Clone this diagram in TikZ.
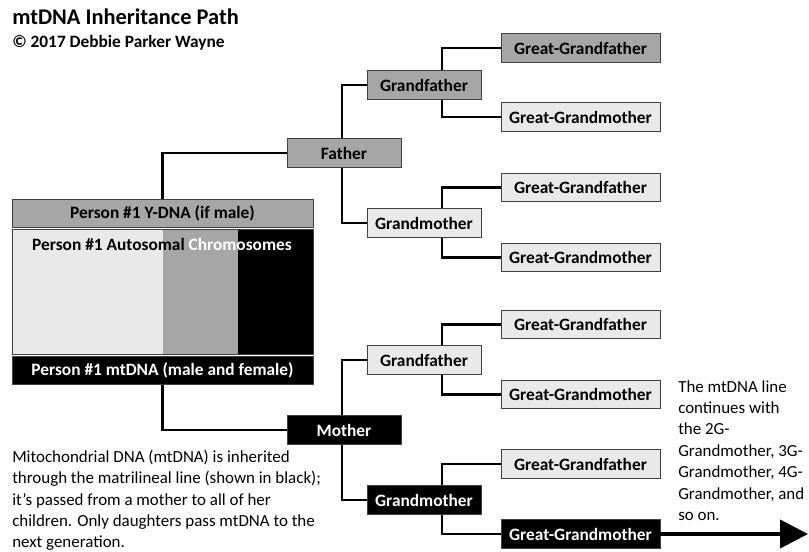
\documentclass[tikz,border=0pt]{standalone}
\usepackage{fontspec}
\setmainfont{Carlito}
\usetikzlibrary{arrows.meta,calc}
\definecolor{darkfill}{HTML}{A6A6A6}
\definecolor{lightfill}{HTML}{E9E9E9}
\definecolor{edge}{HTML}{404040}
\begin{document}
\begin{tikzpicture}[x=0.75pt,y=-0.75pt,
  box/.style={draw=edge, line width=0.6pt, minimum height=21.5pt, inner sep=0pt,
    font=\bfseries\fontsize{13}{15}\selectfont},
  genA/.style={box, minimum width=85.5pt},
  genC/.style={box, minimum width=119.25pt},
  darkbox/.style={fill=darkfill, text=black},
  lightbox/.style={fill=lightfill, text=black},
  blackbox/.style={fill=black, text=white},
  link/.style={line width=2.1pt, draw=black},
  note/.style={align=left, inner sep=0pt, font=\fontsize{12.7}{16.1}\selectfont}
]
\useasboundingbox (0,0) rectangle (809,552);

% title
\node[anchor=base west, inner sep=0pt, font=\bfseries\fontsize{16.8}{19}\selectfont] (title) at (12,25) {mtDNA Inheritance Path};
\node[anchor=base west, inner sep=0pt, font=\bfseries\fontsize{13}{15}\selectfont] (copy) at (12,48) {© 2017 Debbie Parker Wayne};

% person #1 boxes
\fill[lightfill] (12,229) rectangle (163,354);
\fill[darkfill] (163,229) rectangle (238,354);
\fill[black] (238,229) rectangle (313,354);
\node[draw=edge, line width=0.6pt, minimum width=225.75pt, minimum height=93.75pt, inner sep=0pt] (auto) at (162.5,291.5) {};
\node[inner sep=0pt, font=\bfseries\fontsize{13}{15}\selectfont] (autotext) at (162,244) {Person \#1 Autosomal \textcolor{white}{Chromosomes}};
\node[box, darkbox, minimum width=225.75pt, minimum height=21pt] (ydna) at (162.5,213) {Person \#1 Y-DNA (if male)};
\node[box, blackbox, minimum width=225.75pt, minimum height=21.5pt] (mtdna) at (162.5,370.5) {Person \#1 mtDNA (male and female)};

% parents
\node[genA, darkbox] (father) at (344,153) {Father};
\node[genA, blackbox] (mother) at (344,430) {Mother};

% grandparents
\node[genA, darkbox] (gfp) at (424,85) {Grandfather};
\node[genA, lightbox] (gmp) at (424,223) {Grandmother};
\node[genA, lightbox] (gfm) at (424,360) {Grandfather};
\node[genA, blackbox] (gmm) at (424,500) {Grandmother};

% great-grandparents
\node[genC, darkbox] (ggf1) at (580.5,48) {Great-Grandfather};
\node[genC, lightbox] (ggm1) at (580.5,117) {Great-Grandmother};
\node[genC, lightbox] (ggf2) at (580.5,187.5) {Great-Grandfather};
\node[genC, lightbox] (ggm2) at (580.5,257.5) {Great-Grandmother};
\node[genC, lightbox] (ggf3) at (580.5,324.5) {Great-Grandfather};
\node[genC, lightbox] (ggm3) at (580.5,394.5) {Great-Grandmother};
\node[genC, lightbox] (ggf4) at (580.5,464) {Great-Grandfather};
\node[genC, blackbox] (ggm4) at (580.5,534) {Great-Grandmother};

% connectors
\draw[link] (father.west) -| (ydna.north);
\draw[link] (mtdna.south) |- (mother.west);
\draw[link] ([xshift=-1.5pt]father.north) |- (gfp.west);
\draw[link] ([xshift=-1.5pt]father.south) |- (gmp.west);
\draw[link] ([xshift=-1.5pt]mother.north) |- (gfm.west);
\draw[link] ([xshift=-1.5pt]mother.south) |- (gmm.west);
\draw[link] ([xshift=13.5pt]gfp.north) |- (ggf1.west);
\draw[link] ([xshift=13.5pt]gfp.south) |- (ggm1.west);
\draw[link] ([xshift=13.5pt]gmp.north) |- (ggf2.west);
\draw[link] ([xshift=13.5pt]gmp.south) |- (ggm2.west);
\draw[link] ([xshift=13.5pt]gfm.north) |- (ggf3.west);
\draw[link] ([xshift=13.5pt]gfm.south) |- (ggm3.west);
\draw[link] ([xshift=13.5pt]gmm.north) |- (ggf4.west);
\draw[link] ([xshift=13.5pt]gmm.south) |- (ggm4.west);

\coordinate (arrowend) at (808,534);
\draw[line width=3pt, -{Triangle[length=21pt,width=21pt]}] (ggm4.east) -- (arrowend);

% notes
\node[note, anchor=north west, font=\fontsize{12.7}{16}\selectfont] (leftnote) at (12,450) {Mitochondrial DNA (mtDNA) is inherited\\through the matrilineal line (shown in black);\\it’s passed from a mother to all of her\\children. Only daughters pass mtDNA to the\\next generation.};
\node[note, anchor=north west] (rightnote) at (678,380) {The mtDNA line\\continues with\\the 2G-\\Grandmother, 3G-\\Grandmother, 4G-\\Grandmother, and\\so on.};
\end{tikzpicture}
\end{document}
